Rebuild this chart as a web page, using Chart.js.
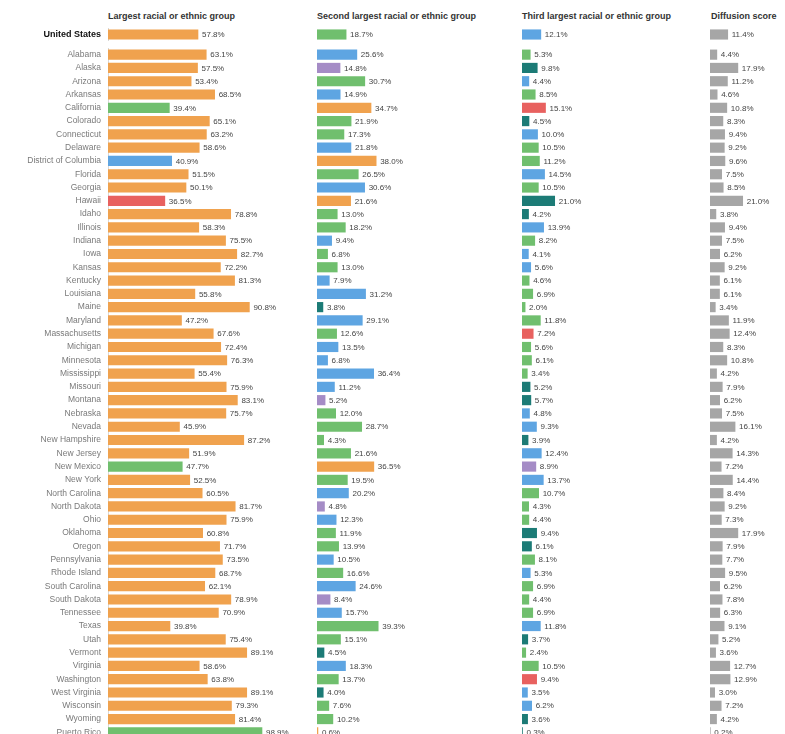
<!DOCTYPE html>
<html>
<head>
<meta charset="utf-8">
<script src="https://cdn.jsdelivr.net/npm/chart.js@4.4.1/dist/chart.umd.min.js"></script>
<style>
body { margin:0; background:#fff; width:785px; height:734px; overflow:hidden; position:relative; font-family:"Liberation Sans", Arial, sans-serif; }
.head { position:absolute; top:11px; font-size:9px; font-weight:bold; color:#333; white-space:nowrap; }
canvas { position:absolute; }
</style>
</head>
<body>
<div class="head" style="left:108px">Largest racial or ethnic group</div>
<div class="head" style="left:317px">Second largest racial or ethnic group</div>
<div class="head" style="left:522px">Third largest racial or ethnic group</div>
<div class="head" style="left:711px">Diffusion score</div>

<canvas id="us1"></canvas><canvas id="st1"></canvas>
<canvas id="us2"></canvas><canvas id="st2"></canvas>
<canvas id="us3"></canvas><canvas id="st3"></canvas>
<canvas id="us4"></canvas><canvas id="st4"></canvas>

<script>
const usLabel = ['United States']
const usLargest = [57.8]
const usLargestGroup = ['W']
const usSecond = [18.7]
const usSecondGroup = ['H']
const usThird = [12.1]
const usThirdGroup = ['B']
const usDiffusion = [11.4]

const states = ['Alabama', 'Alaska', 'Arizona', 'Arkansas', 'California', 'Colorado', 'Connecticut', 'Delaware',
  'District of Columbia', 'Florida', 'Georgia', 'Hawaii', 'Idaho', 'Illinois', 'Indiana', 'Iowa', 'Kansas',
  'Kentucky', 'Louisiana', 'Maine', 'Maryland', 'Massachusetts', 'Michigan', 'Minnesota', 'Mississippi',
  'Missouri', 'Montana', 'Nebraska', 'Nevada', 'New Hampshire', 'New Jersey', 'New Mexico', 'New York',
  'North Carolina', 'North Dakota', 'Ohio', 'Oklahoma', 'Oregon', 'Pennsylvania', 'Rhode Island',
  'South Carolina', 'South Dakota', 'Tennessee', 'Texas', 'Utah', 'Vermont', 'Virginia', 'Washington',
  'West Virginia', 'Wisconsin', 'Wyoming', 'Puerto Rico']

// W = White, H = Hispanic, B = Black, A = Asian, N = American Indian, M = Multiracial
const largest = [63.1, 57.5, 53.4, 68.5, 39.4, 65.1, 63.2, 58.6, 40.9, 51.5, 50.1, 36.5, 78.8, 58.3, 75.5, 82.7, 72.2,
  81.3, 55.8, 90.8, 47.2, 67.6, 72.4, 76.3, 55.4, 75.9, 83.1, 75.7, 45.9, 87.2, 51.9, 47.7, 52.5,
  60.5, 81.7, 75.9, 60.8, 71.7, 73.5, 68.7, 62.1, 78.9, 70.9, 39.8, 75.4, 89.1, 58.6, 63.8,
  89.1, 79.3, 81.4, 98.9]
const largestGroup = ['W','W','W','W','H','W','W','W','B','W','W','A','W','W','W','W','W',
  'W','W','W','W','W','W','W','W','W','W','W','W','W','W','H','W',
  'W','W','W','W','W','W','W','W','W','W','W','W','W','W','W',
  'W','W','W','H']

const second = [25.6, 14.8, 30.7, 14.9, 34.7, 21.9, 17.3, 21.8, 38.0, 26.5, 30.6, 21.6, 13.0, 18.2, 9.4, 6.8, 13.0,
  7.9, 31.2, 3.8, 29.1, 12.6, 13.5, 6.8, 36.4, 11.2, 5.2, 12.0, 28.7, 4.3, 21.6, 36.5, 19.5,
  20.2, 4.8, 12.3, 11.9, 13.9, 10.5, 16.6, 24.6, 8.4, 15.7, 39.3, 15.1, 4.5, 18.3, 13.7,
  4.0, 7.6, 10.2, 0.6]
const secondGroup = ['B','N','H','B','W','H','H','B','W','H','B','W','H','H','B','H','H',
  'B','B','M','B','H','B','B','B','B','N','H','H','H','H','W','H',
  'B','N','B','H','H','B','H','B','N','B','H','H','M','B','H',
  'M','H','H','W']

const third = [5.3, 9.8, 4.4, 8.5, 15.1, 4.5, 10.0, 10.5, 11.2, 14.5, 10.5, 21.0, 4.2, 13.9, 8.2, 4.1, 5.6,
  4.6, 6.9, 2.0, 11.8, 7.2, 5.6, 6.1, 3.4, 5.2, 5.7, 4.8, 9.3, 3.9, 12.4, 8.9, 13.7,
  10.7, 4.3, 4.4, 9.4, 6.1, 8.1, 5.3, 6.9, 4.4, 6.9, 11.8, 3.7, 2.4, 10.5, 9.4,
  3.5, 6.2, 3.6, 0.3]
const thirdGroup = ['H','M','B','H','A','M','B','H','H','B','H','M','M','B','H','B','B',
  'H','H','H','H','A','H','H','H','M','M','B','B','M','B','N','B',
  'H','H','H','M','M','H','B','H','H','H','B','M','H','H','A',
  'B','B','M','M']

const diffusion = [4.4, 17.9, 11.2, 4.6, 10.8, 8.3, 9.4, 9.2, 9.6, 7.5, 8.5, 21.0, 3.8, 9.4, 7.5, 6.2, 9.2,
  6.1, 6.1, 3.4, 11.9, 12.4, 8.3, 10.8, 4.2, 7.9, 6.2, 7.5, 16.1, 4.2, 14.3, 7.2, 14.4,
  8.4, 9.2, 7.3, 17.9, 7.9, 7.7, 9.5, 6.2, 7.8, 6.3, 9.1, 5.2, 3.6, 12.7, 12.9,
  3.0, 7.2, 4.2, 0.2]

const groupColors = {
  W: '#f0a24e',
  H: '#70bf6e',
  B: '#5ea5e2',
  A: '#e8615f',
  N: '#a58cc6',
  M: '#1c7b76'
}
const diffusionColor = '#a6a6a6'

const pxPerPct = 1.557
const fontFamily = '"Liberation Sans", Arial, sans-serif'

const valueLabels = {
  id: 'valueLabels',
  afterDatasetsDraw(chart) {
    const ctx = chart.ctx
    const meta = chart.getDatasetMeta(0)
    const data = chart.data.datasets[0].data
    ctx.save()
    ctx.font = '8px ' + fontFamily
    ctx.fillStyle = '#444'
    ctx.textBaseline = 'middle'
    meta.data.forEach((bar, i) => {
      ctx.fillText(data[i].toFixed(1) + '%', bar.x + 4, bar.y + 0.5)
    })
    ctx.restore()
  }
}

function makeChart(id, left, width, top, height, labels, values, colors, showAxis, bold) {
  const canvas = document.getElementById(id)
  canvas.width = width
  canvas.height = height
  canvas.style.left = left + 'px'
  canvas.style.top = top + 'px'
  const axisWidth = showAxis ? 108 : 0
  return new Chart(canvas, {
    type: 'bar',
    data: {
      labels: labels,
      datasets: [{
        data: values,
        backgroundColor: colors,
        barThickness: 9.5,
        borderWidth: 0
      }]
    },
    plugins: [valueLabels],
    options: {
      indexAxis: 'y',
      responsive: false,
      animation: false,
      devicePixelRatio: 1,
      layout: { padding: 0 },
      plugins: { legend: { display: false }, tooltip: { enabled: false } },
      scales: {
        x: { display: false, min: 0, max: (width - axisWidth) / pxPerPct },
        y: {
          display: showAxis,
          grid: { display: false, drawTicks: false },
          border: { display: showAxis, color: '#d8d8d8', width: 1 },
          ticks: {
            padding: 7,
            autoSkip: false,
            color: bold ? '#111' : '#7a7a7a',
            font: { family: fontFamily, size: bold ? 9 : 8.5, weight: bold ? 'bold' : 'normal' }
          },
          afterFit(scale) {
            if (showAxis) {
              scale.width = axisWidth
              scale.paddingTop = 0
              scale.paddingBottom = 0
            }
          }
        }
      }
    }
  })
}

const rowH = 13.3
const usTop = 35 - rowH / 2
const stTop = 54.3 - rowH / 2
const stH = states.length * rowH

const cols = [
  { left: 0, width: 300 },
  { left: 317, width: 195 },
  { left: 522, width: 185 },
  { left: 710, width: 75 }
]

const toColors = g => g.map(k => groupColors[k])

makeChart('us1', cols[0].left, cols[0].width, usTop, rowH, usLabel, usLargest, toColors(usLargestGroup), true, true)
makeChart('st1', cols[0].left, cols[0].width, stTop, stH, states, largest, toColors(largestGroup), true, false)
makeChart('us2', cols[1].left, cols[1].width, usTop, rowH, usLabel, usSecond, toColors(usSecondGroup), false)
makeChart('st2', cols[1].left, cols[1].width, stTop, stH, states, second, toColors(secondGroup), false)
makeChart('us3', cols[2].left, cols[2].width, usTop, rowH, usLabel, usThird, toColors(usThirdGroup), false)
makeChart('st3', cols[2].left, cols[2].width, stTop, stH, states, third, toColors(thirdGroup), false)
makeChart('us4', cols[3].left, cols[3].width, usTop, rowH, usLabel, usDiffusion, diffusionColor, false)
makeChart('st4', cols[3].left, cols[3].width, stTop, stH, states, diffusion, diffusionColor, false)
</script>
</body>
</html>
